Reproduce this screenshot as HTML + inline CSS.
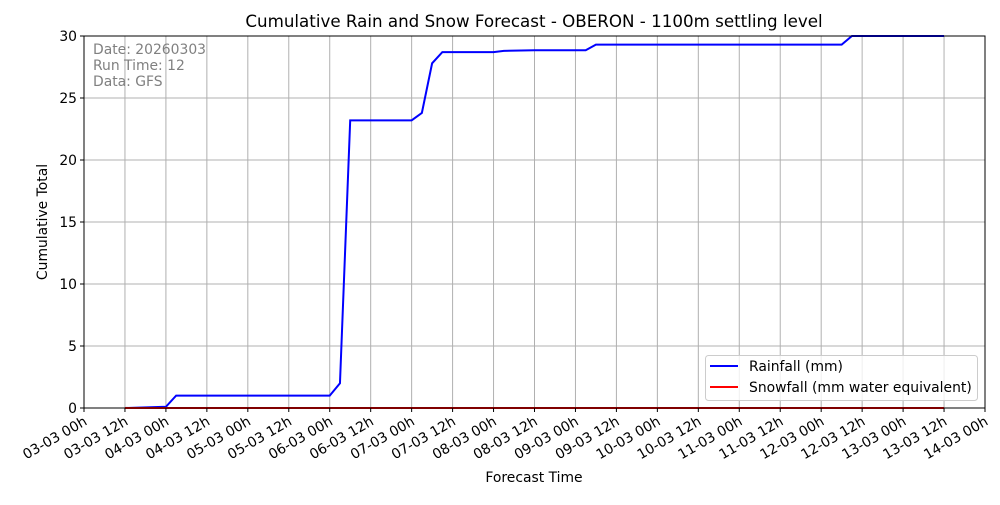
<!DOCTYPE html>
<html><head><meta charset="utf-8"><style>
body{margin:0;background:#fff;}
svg text{font-family:"DejaVu Sans","Liberation Sans",sans-serif;}
</style></head><body>
<svg id="c" width="1000" height="500" xmlns="http://www.w3.org/2000/svg">
<rect width="1000" height="500" fill="#fff"/>
<text x="534" y="27" font-size="16.7" text-anchor="middle">Cumulative Rain and Snow Forecast - OBERON - 1100m settling level</text>
<g id="grid"></g>
<g id="series"></g>
<rect x="84" y="36" width="901" height="372" fill="none" stroke="#000" stroke-width="1"/>
<g id="axes"></g>
<text x="93" y="54" font-size="13.9" fill="#808080">Date: 20260303</text>
<text x="93" y="70" font-size="13.9" fill="#808080">Run Time: 12</text>
<text x="93" y="86" font-size="13.9" fill="#808080">Data: GFS</text>
<text x="534" y="482" font-size="13.9" text-anchor="middle">Forecast Time</text>
<text x="47" y="222" font-size="13.9" text-anchor="middle" transform="rotate(-90 47 222)">Cumulative Total</text>
<g>
<rect x="705.5" y="355.5" width="272" height="45" rx="3" fill="#fff" fill-opacity="0.8" stroke="#ccc"/>
<line x1="710" y1="366" x2="738" y2="366" stroke="#0000ff" stroke-width="2"/>
<text x="749" y="371" font-size="13.9">Rainfall (mm)</text>
<line x1="710" y1="387" x2="738" y2="387" stroke="#ff0000" stroke-width="2"/>
<text x="749" y="392" font-size="13.9">Snowfall (mm water equivalent)</text>
</g>
</svg>
<script>
const xTickLabels=["03-03 00h","03-03 12h","04-03 00h","04-03 12h","05-03 00h","05-03 12h","06-03 00h","06-03 12h","07-03 00h","07-03 12h","08-03 00h","08-03 12h","09-03 00h","09-03 12h","10-03 00h","10-03 12h","11-03 00h","11-03 12h","12-03 00h","12-03 12h","13-03 00h","13-03 12h","14-03 00h"];
const yTicks=[0,5,10,15,20,25,30];
const rainHours=[12,24,27,72,75,78,96,99,102,105,120,123,132,147,150,222,225,252];
const rainValues=[0,0.1,1.0,1.0,2.0,23.2,23.2,23.8,27.8,28.7,28.7,28.8,28.85,28.85,29.3,29.3,30.0,30.0];
const snowHours=[12,252];
const snowValues=[0,0];
const NS="http://www.w3.org/2000/svg";
const X0=84,X1=985,Y0=408,Y1=36,HMAX=264,VMAX=30;
const xs=h=>X0+(X1-X0)*h/HMAX;
const ys=v=>Y0-(Y0-Y1)*v/VMAX;
function mk(t,a,p){const e=document.createElementNS(NS,t);for(const k in a)e.setAttribute(k,a[k]);p.appendChild(e);return e;}
const grid=document.getElementById('grid'),axes=document.getElementById('axes'),ser=document.getElementById('series');
xTickLabels.forEach((l,i)=>{const x=xs(i*12);
 const g=mk('line',{x1:x,y1:Y1,x2:x,y2:Y0,stroke:'#b0b0b0','stroke-width':1},grid);
 
 const t=mk('line',{x1:x,y1:Y0,x2:x,y2:Y0+4,stroke:'#000'},axes);
 
 const tx=mk('text',{x:x+4,y:Y0+16,'font-size':13.9,'text-anchor':'end',transform:`rotate(-30 ${x+4} ${Y0+16})`},axes);
 tx.textContent=l;
});
yTicks.forEach(v=>{const y=ys(v);
 const g=mk('line',{x1:X0,y1:y,x2:X1,y2:y,stroke:'#b0b0b0','stroke-width':1},grid);
 
 const t=mk('line',{x1:X0-4,y1:y,x2:X0,y2:y,stroke:'#000'},axes);
 
 const tx=mk('text',{x:X0-7,y:y+5,'font-size':13.9,'text-anchor':'end'},axes);
 tx.textContent=v;
});
const rl=mk('polyline',{points:rainHours.map((h,i)=>xs(h)+','+ys(rainValues[i])).join(' '),fill:'none',stroke:'#0000ff','stroke-width':2},ser);

const sl=mk('polyline',{points:snowHours.map((h,i)=>xs(h)+','+ys(snowValues[i])).join(' '),fill:'none',stroke:'#ff0000','stroke-width':2},ser);

</script>
</body></html>
